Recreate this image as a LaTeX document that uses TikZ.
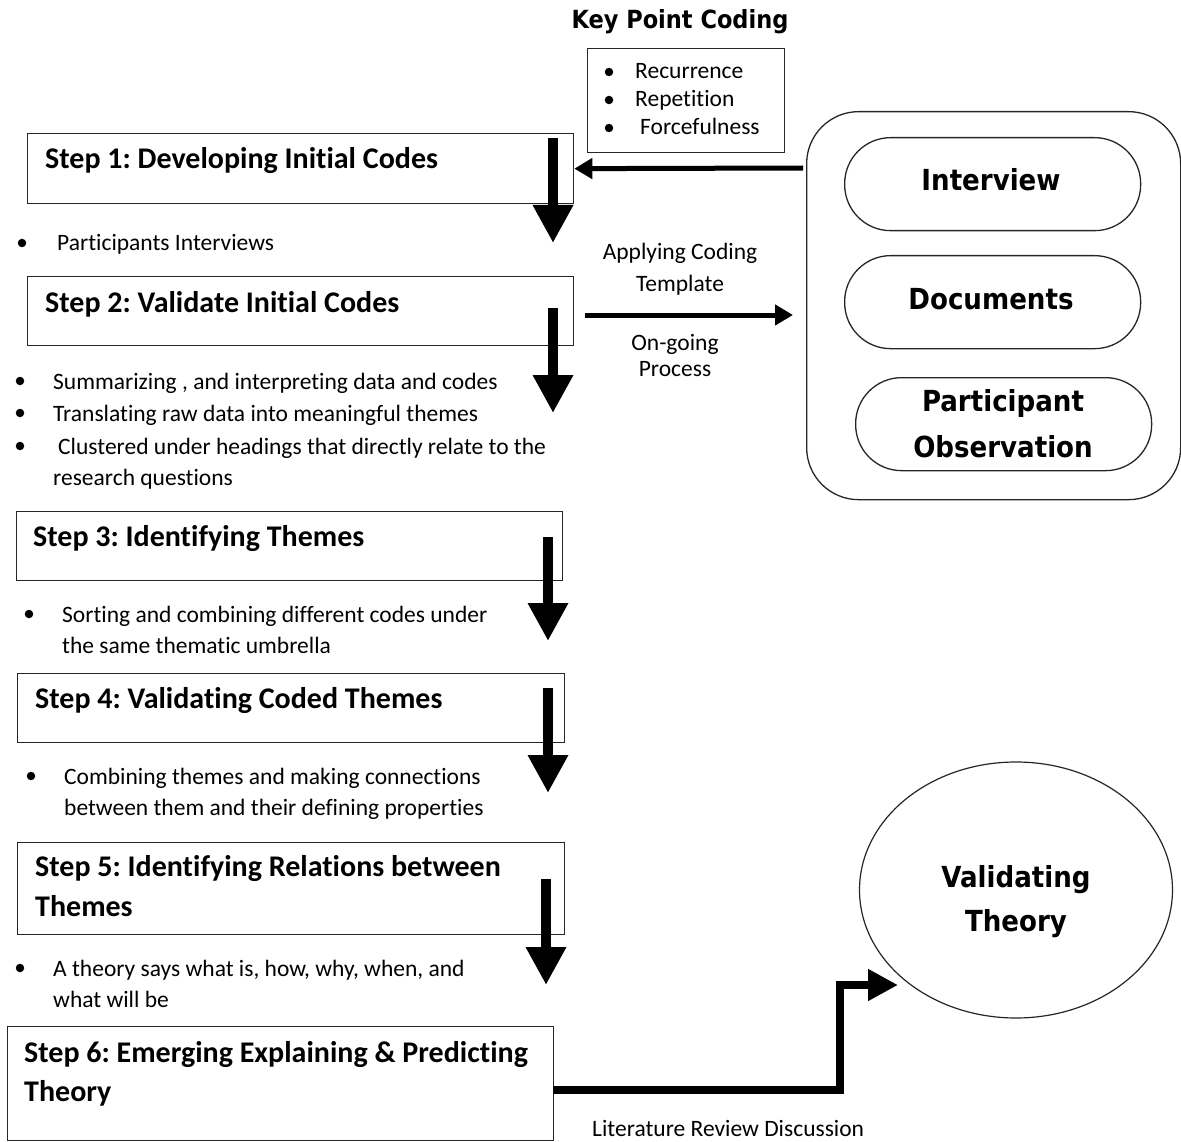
\documentclass[tikz,border=0pt]{standalone}
\usepackage{fontspec}
\setmainfont{Carlito}[Ligatures=NoCommon]
\newfontfamily\headfont{DejaVu Sans Condensed}
\usetikzlibrary{arrows.meta,shapes.geometric}
\frenchspacing

\tikzset{
  stepbox/.style={draw=black!85, line width=1.3pt, rectangle, inner sep=0pt, anchor=north west},
  steptext/.style={font=\fontsize{30}{34}\selectfont\bfseries, anchor=base west, inner sep=0pt},
  body/.style={font=\fontsize{23.5}{27}\selectfont, anchor=base west, inner sep=0pt},
  bodyc/.style={body, anchor=base},
  head/.style={font=\headfont\bfseries\fontsize{29}{34}\selectfont, inner sep=0pt, anchor=base},
  pill/.style={draw=black!85, line width=1.3pt, rectangle, rounded corners=46pt, inner sep=0pt, anchor=north west},
  dot/.style={circle, fill=black, inner sep=0pt, minimum size=8.5pt},
  downarrow/.style={line width=10pt, -{Triangle[width=38pt,length=38pt]}},
  thinarrow/.style={line width=5pt, -{Triangle[width=20pt,length=18pt]}},
  elbowarrow/.style={line width=8pt, line join=miter, -{Triangle[width=30pt,length=30pt]}},
}

\begin{document}
\begin{tikzpicture}[x=1pt, y=-1pt]
\useasboundingbox[fill=white] (0,0) rectangle (1181,1142);

% ---- key point coding ----
\node[head, font=\headfont\bfseries\fontsize{25}{29}\selectfont] (kpt) at (680,29) {Key Point Coding};
\node[stepbox, line width=1pt, minimum width=197pt, minimum height=104pt] (kpc) at (587,48) {};
\node[dot] (kd1) at (609,72) {};
\node[dot] (kd2) at (609,100) {};
\node[dot] (kd3) at (609,128) {};
\node[body] (k1) at (635,79) {Recurrence};
\node[body] (k2) at (635,107) {Repetition};
\node[body] (k3) at (640,135) {Forcefulness};

% ---- step boxes ----
\node[stepbox, minimum width=546pt, minimum height=70pt] (s1) at (27,133) {};
\node[steptext] (s1t) at (45,169) {Step 1: Developing Initial Codes};
\node[stepbox, minimum width=546pt, minimum height=69pt] (s2) at (27,276) {};
\node[steptext] (s2t) at (45,312) {Step 2: Validate Initial Codes};
\node[stepbox, minimum width=546pt, minimum height=69pt] (s3) at (16,511) {};
\node[steptext] (s3t) at (33,546) {Step 3: Identifying Themes};
\node[stepbox, minimum width=547pt, minimum height=69pt] (s4) at (17,673) {};
\node[steptext] (s4t) at (35,708) {Step 4: Validating Coded Themes};
\node[stepbox, minimum width=547pt, minimum height=92pt] (s5) at (17,842) {};
\node[steptext] (s5t) at (35,876) {Step 5: Identifying Relations between};
\node[steptext] (s5u) at (35,916) {Themes};
\node[stepbox, minimum width=546pt, minimum height=114pt] (s6) at (7,1026) {};
\node[steptext] (s6t) at (24,1062) {Step 6: Emerging Explaining \& Predicting};
\node[steptext] (s6u) at (24,1101) {Theory};

% ---- bullet notes ----
\node[dot] (b1) at (22,243) {};
\node[body] (n1) at (57,251) {Participants Interviews};

\node[dot] (b2a) at (20,381) {};
\node[dot] (b2b) at (20,413) {};
\node[dot] (b2c) at (20,446) {};
\node[body] (n2a) at (53,389) {Summarizing , and interpreting data and codes};
\node[body] (n2b) at (53,421) {Translating raw data into meaningful themes};
\node[body] (n2c) at (58,454) {Clustered under headings that directly relate to the};
\node[body] (n2d) at (53,485) {research questions};

\node[dot] (b3) at (29,614) {};
\node[body] (n3a) at (62,622) {Sorting and combining different codes under};
\node[body] (n3b) at (62,653) {the same thematic umbrella};

\node[dot] (b4) at (31,776) {};
\node[body] (n4a) at (64,784) {Combining themes and making connections};
\node[body] (n4b) at (64,815) {between them and their defining properties};

\node[dot] (b5) at (20,968) {};
\node[body] (n5a) at (53,976) {A theory says what is, how, why, when, and};
\node[body] (n5b) at (53,1007) {what will be};

% ---- data sources ----
\node[stepbox, rounded corners=52pt, minimum width=374pt, minimum height=388pt] (cont) at (806,111) {};
\node[pill, minimum width=296pt, minimum height=93pt] (iv) at (844,137) {};
\node[head] (ivt) at (991,191) {Interview};
\node[pill, minimum width=296pt, minimum height=93pt] (doc) at (844,255) {};
\node[head] (doct) at (991,309) {Documents};
\node[pill, minimum width=296pt, minimum height=93pt] (po) at (855,377) {};
\node[head] (pot) at (1003,411) {Participant};
\node[head] (pou) at (1003,457) {Observation};

% ---- labels on the coding link ----
\node[bodyc] (ap1) at (680,260) {Applying Coding};
\node[bodyc] (ap2) at (680,291) {Template};
\node[bodyc] (og1) at (675,350) {On-going};
\node[bodyc] (og2) at (675,376) {Process};

% ---- validating theory ----
\node[draw=black!85, line width=1.2pt, ellipse, minimum width=313pt, minimum height=256pt, inner sep=0pt] (vt) at (1016,890) {};
\node[head] (vtt) at (1016,887) {Validating};
\node[head] (vtu) at (1016,931) {Theory};
\node[body] (lit) at (592,1136) {Literature Review Discussion};

% ---- connectors ----
\coordinate (d1a) at (553,138);  \coordinate (d1b) at (553,243);
\coordinate (d2a) at (553,308);  \coordinate (d2b) at (553,413);
\coordinate (d3a) at (548,537);  \coordinate (d3b) at (548,641);
\coordinate (d4a) at (548,688);  \coordinate (d4b) at (548,793);
\coordinate (d5a) at (546,879);  \coordinate (d5b) at (546,985);
\draw[downarrow] (d1a) -- (d1b);
\draw[downarrow] (d2a) -- (d2b);
\draw[downarrow] (d3a) -- (d3b);
\draw[downarrow] (d4a) -- (d4b);
\draw[downarrow] (d5a) -- (d5b);

\coordinate (kin) at (803,168);
\draw[thinarrow] (kin) -- (s1.east);

\coordinate (aps) at (585,315);
\coordinate (ape) at (793,315);
\draw[thinarrow] (aps) -- (ape);

\coordinate (el0) at (553,1090);
\coordinate (el1) at (840,1090);
\coordinate (el2) at (840,985);
\coordinate (el3) at (898,985);
\draw[elbowarrow] (el0) -- (el1) -- (el2) -- (el3);
\end{tikzpicture}
\end{document}
